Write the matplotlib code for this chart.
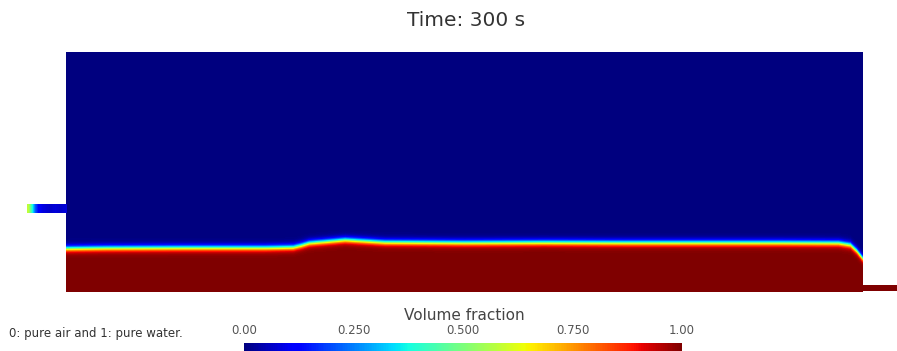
import numpy as np
import matplotlib
matplotlib.use("Agg")
import matplotlib.pyplot as plt
from matplotlib.cm import ScalarMappable
from matplotlib.colors import Normalize

# perfil da superficie livre: posicao ao longo do canal (fracao) e altura da agua (fracao)
interface_x = [0.0, 0.05, 0.15, 0.25, 0.285, 0.295, 0.305, 0.33, 0.35, 0.37,
               0.40, 0.50, 0.60, 0.70, 0.80, 0.90, 0.97, 0.985, 0.993, 1.0]
interface_h = [0.180, 0.182, 0.183, 0.183, 0.185, 0.193, 0.203, 0.210, 0.216, 0.212,
               0.206, 0.204, 0.205, 0.204, 0.204, 0.204, 0.203, 0.195, 0.170, 0.140]

# fracao de volume ao longo do tubo de entrada (da ponta ate o canal)
inlet_vf = [0.58, 0.40, 0.22, 0.12, 0.09, 0.08, 0.07, 0.07, 0.08, 0.07, 0.07, 0.08]
outlet_vf = [1.0, 1.0, 1.0]

tick_vals = [0.0, 0.25, 0.5, 0.75, 1.0]
tick_labels = ["0.00", "0.250", "0.500", "0.750", "1.00"]
time_s = 300

W, H = 897, 351
fig = plt.figure(figsize=(W / 100, H / 100), dpi=100)


def box(x0, y0, x1, y1):
    return [x0 / W, 1 - y1 / H, (x1 - x0) / W, (y1 - y0) / H]


cmap = "jet"

# dominio principal
ax = fig.add_axes(box(66, 52, 862, 292))
xs = np.linspace(0, 1, 800)
ys = np.linspace(0, 1, 240)
X, Y = np.meshgrid(xs, ys)
h = np.interp(xs, interface_x, interface_h)
vf = 0.5 * (1 - np.tanh((Y - h[None, :]) / 0.015))
ax.imshow(vf, origin="lower", extent=(0, 1, 0, 1), cmap=cmap, vmin=0, vmax=1,
          aspect="auto", interpolation="bilinear")
ax.set_axis_off()

# tubo de entrada
ax_in = fig.add_axes(box(27, 204, 66, 213))
ax_in.imshow(np.array(inlet_vf)[None, :], cmap=cmap, vmin=0, vmax=1,
             aspect="auto", interpolation="bilinear")
ax_in.set_axis_off()

# saida
ax_out = fig.add_axes(box(862, 285, 897, 291))
ax_out.imshow(np.array(outlet_vf)[None, :], cmap=cmap, vmin=0, vmax=1,
              aspect="auto", interpolation="nearest")
ax_out.set_axis_off()

# barra de cores
cax = fig.add_axes(box(244, 343, 682, 356))
cb = fig.colorbar(ScalarMappable(Normalize(0, 1), cmap=cmap), cax=cax,
                  orientation="horizontal")
cb.outline.set_visible(False)
cax.xaxis.set_ticks_position("top")
cax.set_xticks(tick_vals, tick_labels)
cax.tick_params(length=0, pad=4, labelsize=8.5, colors="#555555")

fig.text(464 / W, 1 - 315 / H, "Volume fraction", fontsize=11, color="#444444",
         ha="center", va="center")
fig.text(466 / W, 1 - 20 / H, f"Time: {time_s} s", fontsize=14.5, color="#333333",
         ha="center", va="center")
fig.text(9 / W, 1 - 333 / H, "0: pure air and 1: pure water.", fontsize=8.5,
         color="#333333", va="center")

fig.savefig("out.png", dpi=100)
